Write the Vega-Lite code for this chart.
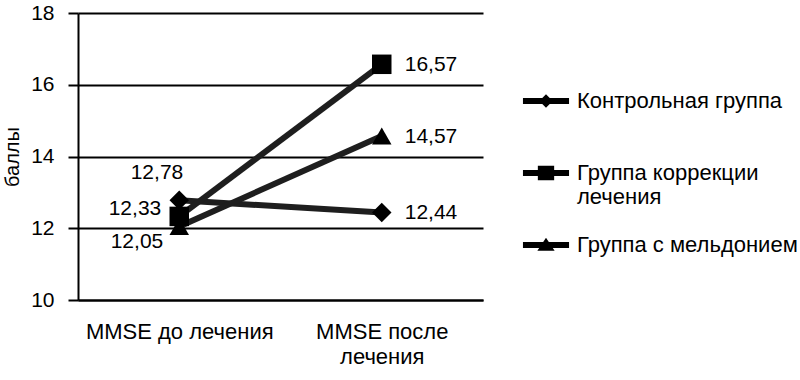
{
  "$schema": "https://vega.github.io/schema/vega-lite/v6.json",
  "width": 405,
  "height": 287,
  "autosize": {"type": "none"},
  "padding": {"left": 78, "top": 13, "right": 317, "bottom": 80},
  "background": "white",
  "config": {
    "font": "Liberation Sans",
    "view": {"stroke": null},
    "locale": {"number": {"decimal": ",", "thousands": " ", "grouping": [3], "currency": ["", ""]}}
  },
  "data": {
    "values": [
      {"time": "MMSE до лечения", "group": "Контрольная группа", "value": 12.78},
      {"time": "MMSE после лечения", "group": "Контрольная группа", "value": 12.44},
      {"time": "MMSE до лечения", "group": "Группа коррекции лечения", "value": 12.33},
      {"time": "MMSE после лечения", "group": "Группа коррекции лечения", "value": 16.57},
      {"time": "MMSE до лечения", "group": "Группа с мельдонием", "value": 12.05},
      {"time": "MMSE после лечения", "group": "Группа с мельдонием", "value": 14.57}
    ]
  },
  "encoding": {
    "x": {
      "field": "time", "type": "nominal",
      "sort": ["MMSE до лечения", "MMSE после лечения"],
      "scale": {"type": "point", "padding": 0.5},
      "axis": {
        "title": null, "labelAngle": 0, "ticks": false,
        "domainColor": "#000", "domainWidth": 2,
        "labelFontSize": 22, "labelColor": "#000", "labelPadding": 21,
        "labelBaseline": "top", "labelLineHeight": 25, "labelLimit": 300,
        "labelExpr": "datum.label === 'MMSE после лечения' ? ['MMSE после', 'лечения'] : datum.label"
      }
    },
    "y": {
      "field": "value", "type": "quantitative",
      "scale": {"domain": [10, 18], "nice": false, "zero": false},
      "axis": {
        "title": "баллы", "titleFontSize": 20, "titleFontWeight": "normal", "titleColor": "#000", "titlePadding": 8,
        "values": [10, 12, 14, 16, 18],
        "grid": true, "gridColor": "#000", "gridWidth": 2, "gridOpacity": 1,
        "domainColor": "#000", "domainWidth": 2,
        "tickColor": "#000", "tickWidth": 2, "tickSize": 10,
        "labelFontSize": 21, "labelColor": "#000", "labelPadding": 14
      }
    }
  },
  "resolve": {"scale": {"shape": "independent"}},
  "layer": [
    {
      "mark": {"type": "line", "strokeWidth": 6, "color": "#1e1e1e"},
      "encoding": {"detail": {"field": "group"}}
    },
    {
      "mark": {"type": "point", "filled": true, "color": "#000", "opacity": 1, "size": 380},
      "encoding": {
        "shape": {
          "field": "group", "type": "nominal",
          "scale": {
            "domain": ["Контрольная группа", "Группа коррекции лечения", "Группа с мельдонием"],
            "range": ["diamond", "square", "triangle-up"]
          },
          "legend": null
        }
      }
    },
    {
      "transform": [{"filter": "false"}],
      "mark": {"type": "point", "filled": true, "color": "#000", "opacity": 1},
      "encoding": {
        "shape": {
          "field": "group", "type": "nominal",
          "scale": {
            "domain": ["Контрольная группа", "Группа коррекции лечения", "Группа с мельдонием"],
            "range": [
              "M-0.96,-0.12H0.96V0.12H-0.96Z M0,-0.28L0.28,0L0,0.28L-0.28,0Z",
              "M-0.96,-0.12H0.96V0.12H-0.96Z M-0.34,-0.3H0.34V0.3H-0.34Z",
              "M-0.96,-0.12H0.96V0.12H-0.96Z M0,-0.3L0.36,0.24L-0.36,0.24Z"
            ]
          },
          "legend": {
            "orient": "none", "legendX": 444, "legendY": 64,
            "title": null, "gridAlign": "all",
            "symbolSize": 2304, "symbolFillColor": "#000", "symbolStrokeWidth": 0, "symbolOpacity": 1,
            "labelFontSize": 22, "labelColor": "#000", "labelOffset": 7, "labelLineHeight": 27, "labelLimit": 400,
            "rowPadding": 13,
            "labelExpr": "datum.label === 'Группа коррекции лечения' ? ['Группа коррекции', 'лечения'] : datum.label"
          }
        }
      }
    },
    {
      "transform": [{"filter": "datum.time === 'MMSE после лечения'"}],
      "mark": {"type": "text", "align": "left", "baseline": "middle", "dx": 23, "dy": 1, "fontSize": 21, "color": "#000"},
      "encoding": {"text": {"field": "value", "type": "quantitative", "format": ".2f"}}
    },
    {
      "transform": [{"filter": "datum.time === 'MMSE до лечения' && datum.group === 'Контрольная группа'"}],
      "mark": {"type": "text", "align": "right", "baseline": "middle", "dx": 4, "dy": -27, "fontSize": 21, "color": "#000"},
      "encoding": {"text": {"field": "value", "type": "quantitative", "format": ".2f"}}
    },
    {
      "transform": [{"filter": "datum.time === 'MMSE до лечения' && datum.group === 'Группа коррекции лечения'"}],
      "mark": {"type": "text", "align": "right", "baseline": "middle", "dx": -18, "dy": -7, "fontSize": 21, "color": "#000"},
      "encoding": {"text": {"field": "value", "type": "quantitative", "format": ".2f"}}
    },
    {
      "transform": [{"filter": "datum.time === 'MMSE до лечения' && datum.group === 'Группа с мельдонием'"}],
      "mark": {"type": "text", "align": "right", "baseline": "middle", "dx": -16, "dy": 16, "fontSize": 21, "color": "#000"},
      "encoding": {"text": {"field": "value", "type": "quantitative", "format": ".2f"}}
    }
  ]
}
